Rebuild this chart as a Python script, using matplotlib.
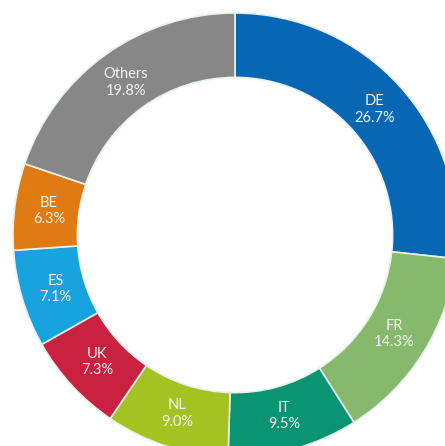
#!/usr/bin/env python3

import matplotlib
matplotlib.use("Agg")
import matplotlib.pyplot as plt
import numpy as np

countries = ["DE", "FR", "IT", "NL", "UK", "ES", "BE", "Others"]
shares = [26.7, 14.3, 9.5, 9.0, 7.3, 7.1, 6.3, 19.8]
colors = ["#0867b5", "#86b96c", "#0a9473", "#a4c322", "#c9213f",
          "#18a3de", "#e07a12", "#878787"]

plt.rcParams["font.family"] = ["Lato", "DejaVu Sans"]

fig = plt.figure(figsize=(4.45, 4.46), dpi=100)
ax = fig.add_axes([0, 0, 1, 1])

wedges, _ = ax.pie(shares, colors=colors, startangle=90, counterclock=False,
                   radius=1.0, wedgeprops=dict(width=0.29, edgecolor="#e8f2ea",
                                               linewidth=1.2))

# labels in the middle of the ring
label_r = 0.845
for w, name, val in zip(wedges, countries, shares):
    ang = np.deg2rad((w.theta1 + w.theta2) / 2)
    ax.text(label_r * np.cos(ang), label_r * np.sin(ang),
            f"{name}\n{val:.1f}%", ha="center", va="center",
            color="#f2f6f2", fontsize=10.5, linespacing=1.25)

# chart is cropped at right and bottom
ax.set_xlim(-235 / 222, 210 / 222)
ax.set_ylim(-211 / 222, 235 / 222)
ax.set_aspect("equal")
ax.axis("off")

fig.savefig("out.png", dpi=100)
